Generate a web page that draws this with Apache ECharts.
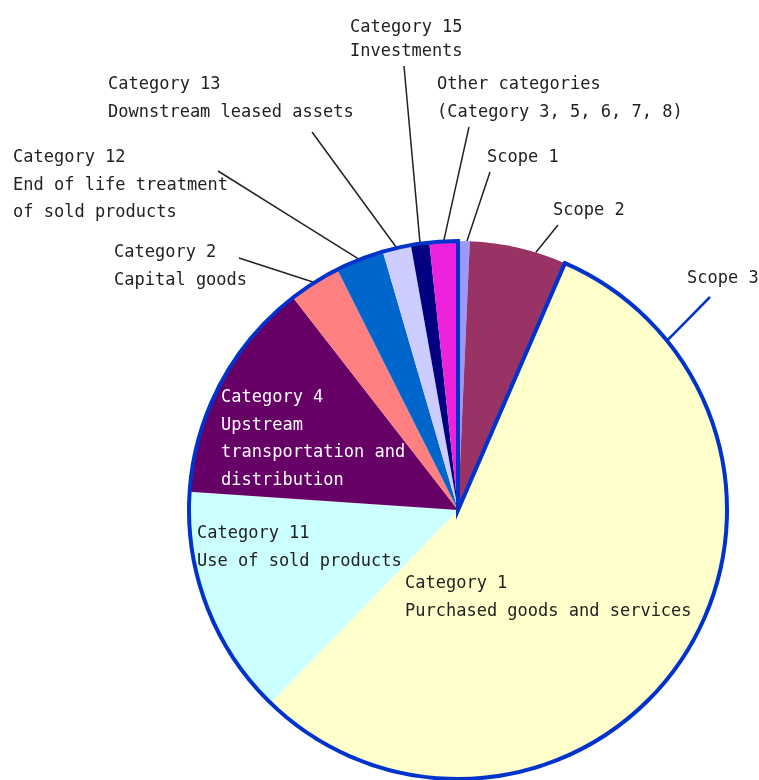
<!DOCTYPE html>
<html>
<head>
<meta charset="utf-8">
<script src="https://cdn.jsdelivr.net/npm/echarts@6/dist/echarts.min.js"></script>
<style>
html,body{margin:0;padding:0;background:#ffffff;}
#chart{width:759px;height:780px;}
</style>
</head>
<body>
<div id="chart"></div>
<script>
// ---- Data ----
const sliceNames = ['Scope 1', 'Scope 2', 'Category 1', 'Category 11', 'Category 4',
  'Category 2', 'Category 12', 'Category 13', 'Category 15', 'Other categories'];
const sliceLabels = [
  'Scope 1',
  'Scope 2',
  'Category 1\nPurchased goods and services',
  'Category 11\nUse of sold products',
  'Category 4\nUpstream\ntransportation and\ndistribution',
  'Category 2\nCapital goods',
  'Category 12\nEnd of life treatment\nof sold products',
  'Category 13\nDownstream leased assets',
  'Category 15\nInvestments',
  'Other categories\n(Category 3, 5, 6, 7, 8)'
];
const sliceValues = [0.7, 5.8, 55.7, 13.8, 13.4, 3.1, 2.9, 1.7, 1.1, 1.7];
const scopeGroups = ['Scope 1 + 2', 'Scope 3'];
const scopeLabels = ['', 'Scope 3'];
const scope12Total = sliceValues[0] + sliceValues[1];
const scope3Total = sliceValues.slice(2).reduce((a, b) => a + b, 0);
const scopeValues = [scope12Total, scope3Total];

// ---- Styles ----
const sliceColors = ['#9999ff', '#993366', '#ffffcc', '#ccffff', '#660066',
  '#ff8080', '#0066cc', '#ccccff', '#000080', '#ee22dd'];
const insideSlices = ['Category 1', 'Category 11', 'Category 4'];
const whiteText = ['Category 4'];
const TEXT = '#222222';
const FONT = 'DejaVu Sans Mono';
const CX = 458, CY = 510, R = 269;

// ---- Label placement (left x, first-line centre y, leader end) ----
const labelPlace = {
  'Scope 1':          { x: 487, y: 158, end: [490, 172], angle: 1.9 },
  'Scope 2':          { x: 553, y: 211, end: [558, 225], angle: 16.8 },
  'Scope 3':          { x: 687, y: 279, end: [710, 297], angle: 51 },
  'Category 1':       { x: 405, y: 584 },
  'Category 11':      { x: 197, y: 534 },
  'Category 4':       { x: 221, y: 398 },
  'Category 2':       { x: 114, y: 253, end: [239, 258] },
  'Category 12':      { x: 13,  y: 158, end: [218, 171] },
  'Category 13':      { x: 108, y: 85,  end: [312, 132] },
  'Category 15':      { x: 350, y: 28,  end: [404, 66], lh: 24 },
  'Other categories': { x: 437, y: 85,  end: [469, 127] }
};

function layoutFn(p) {
  const name = p.seriesIndex === 0 ? sliceNames[p.dataIndex] : scopeGroups[p.dataIndex];
  const pl = labelPlace[name];
  if (!pl) return {};
  const lh = pl.lh || 27.5;
  const res = { x: pl.x, y: pl.y - lh / 2, align: 'left', verticalAlign: 'top' };
  if (pl.end) {
    let start;
    if (pl.angle != null) {
      const a = pl.angle * Math.PI / 180;
      start = [CX + R * Math.sin(a), CY - R * Math.cos(a)];
    } else if (p.labelLinePoints && p.labelLinePoints.length) {
      start = p.labelLinePoints[0];
    }
    if (start) {
      const mid = [(start[0] + pl.end[0]) / 2, (start[1] + pl.end[1]) / 2];
      res.labelLinePoints = [start, mid, pl.end];
    }
  }
  return res;
}

const innerData = sliceNames.map((n, i) => {
  const inside = insideSlices.indexOf(n) >= 0;
  const pl = labelPlace[n] || {};
  return {
    name: n,
    value: sliceValues[i],
    itemStyle: { color: sliceColors[i] },
    label: {
      formatter: sliceLabels[i],
      color: whiteText.indexOf(n) >= 0 ? '#ffffff' : TEXT,
      lineHeight: pl.lh || 27.5
    },
    labelLine: { show: !inside }
  };
});

const outerData = scopeGroups.map((n, i) => ({
  name: n,
  value: scopeValues[i],
  itemStyle: i === 0
    ? { color: 'rgba(0,0,0,0)', borderWidth: 0 }
    : { color: 'rgba(0,0,0,0)', borderColor: '#0033cc', borderWidth: 4, borderJoin: 'miter' },
  label: { show: i === 1, formatter: scopeLabels[i] },
  labelLine: { show: i === 1, lineStyle: { color: '#0033cc', width: 2.5 } }
}));

const chart = echarts.init(document.getElementById('chart'), null, { renderer: 'canvas' });
chart.setOption({
  animation: false,
  backgroundColor: '#ffffff',
  series: [
    {
      type: 'pie',
      center: [CX, CY],
      radius: [0, R],
      startAngle: 90,
      clockwise: true,
      avoidLabelOverlap: false,
      silent: true,
      z: 2,
      itemStyle: { borderWidth: 0 },
      label: {
        show: true,
        position: 'outside',
        overflow: 'none',
        fontFamily: FONT,
        fontSize: 17,
        color: TEXT,
        lineHeight: 27.5
      },
      labelLine: { show: true, length: 10, length2: 10, lineStyle: { color: '#222222', width: 1.5 } },
      labelLayout: layoutFn,
      emphasis: { disabled: true },
      data: innerData
    },
    {
      type: 'pie',
      center: [CX, CY],
      radius: [0, R],
      startAngle: 90,
      clockwise: true,
      avoidLabelOverlap: false,
      silent: true,
      z: 3,
      label: {
        show: true,
        position: 'outside',
        overflow: 'none',
        fontFamily: FONT,
        fontSize: 17,
        color: TEXT,
        lineHeight: 27.5
      },
      labelLine: { show: true, length: 10, length2: 10 },
      labelLayout: layoutFn,
      emphasis: { disabled: true },
      data: outerData
    }
  ]
});
</script>
</body>
</html>
